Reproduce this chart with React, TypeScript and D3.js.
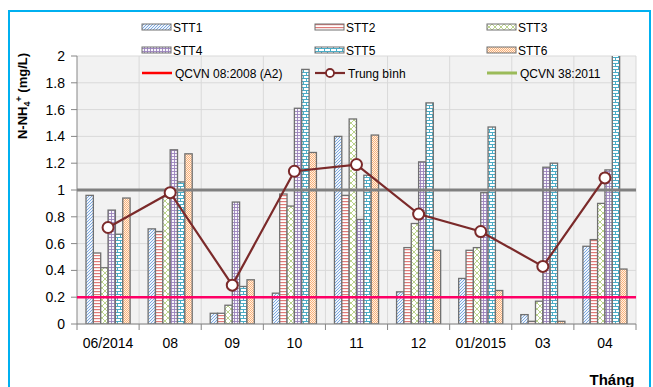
import React from "react";
import * as d3 from "d3";

const categories = ["06/2014", "08", "09", "10", "11", "12", "01/2015", "03", "04"];
const seriesNames = ["STT1", "STT2", "STT3", "STT4", "STT5", "STT6"];
const stt1 = [0.96, 0.71, 0.08, 0.23, 1.40, 0.24, 0.34, 0.07, 0.58];
const stt2 = [0.53, 0.69, 0.08, 0.97, 0.96, 0.57, 0.55, 0.02, 0.63];
const stt3 = [0.42, 0.95, 0.14, 0.88, 1.53, 0.75, 0.57, 0.17, 0.90];
const stt4 = [0.85, 1.30, 0.91, 1.61, 0.78, 1.21, 0.98, 1.17, 1.15];
const stt5 = [0.67, 1.06, 0.28, 1.90, 1.11, 1.65, 1.47, 1.20, 2.90];
const stt6 = [0.94, 1.27, 0.33, 1.28, 1.41, 0.55, 0.25, 0.02, 0.41];
const trungBinh = [0.72, 0.98, 0.29, 1.14, 1.19, 0.82, 0.69, 0.43, 1.09];
const qcvn08 = 0.2;
const qcvn38 = 1;
const yTicks = [0, 0.2, 0.4, 0.6, 0.8, 1, 1.2, 1.4, 1.6, 1.8, 2];

const seriesValues = [stt1, stt2, stt3, stt4, stt5, stt6];

const W = 653, H = 387;
const left = 77, right = 636, top = 56, bottom = 324;
const FONT = "'Liberation Sans', Arial, sans-serif";

export default function App() {
  const x = d3.scaleBand<string>().domain(categories).range([left, right]).paddingInner(0).paddingOuter(0);
  const bw = x.bandwidth();
  const x1 = d3.scaleBand<string>().domain(seriesNames).range([bw * 0.145, bw * 0.855]).padding(0);
  const y = d3.scaleLinear().domain([0, 2]).range([bottom, top]);
  const line = d3.line<number>().x((_, i) => (x(categories[i]) as number) + bw / 2).y((d) => y(d));

  const legendCols = [142, 315, 487];
  const legendRows = [27, 50, 73];
  const axisColor = "#868686";
  const barStroke = "#707070";

  return (
    <svg width={W} height={H} style={{ position: "absolute", left: 0, top: 0 }} fontFamily={FONT}>
      <defs>
        <pattern id="p0" patternUnits="userSpaceOnUse" width="3" height="3">
          <rect width="3" height="3" fill="#eef4fb" />
          <path d="M-0.75,0.75 l1.5,-1.5 M0,3 l3,-3 M2.25,3.75 l1.5,-1.5" stroke="#6f9fdc" strokeWidth="0.9" />
        </pattern>
        <pattern id="p1" patternUnits="userSpaceOnUse" width="4" height="3">
          <rect width="4" height="3" fill="#ffffff" />
          <rect y="0" width="4" height="1.2" fill="#e07b78" />
        </pattern>
        <pattern id="p2" patternUnits="userSpaceOnUse" width="6" height="6">
          <rect width="6" height="6" fill="#ffffff" />
          <path d="M0,0 L6,6 M6,0 L0,6" stroke="#b3cf7f" strokeWidth="0.9" />
        </pattern>
        <pattern id="p3" patternUnits="userSpaceOnUse" width="3" height="3">
          <rect width="3" height="3" fill="#f7f4fa" />
          <path d="M0,0.5 H3 M0.5,0 V3" stroke="#9a82bb" strokeWidth="0.9" />
        </pattern>
        <pattern id="p4" patternUnits="userSpaceOnUse" width="6" height="6">
          <rect width="6" height="6" fill="#ffffff" />
          <path d="M0,0.5 H6 M0,3.5 H6 M0.5,0 V3 M3.5,3 V6" stroke="#4bacc6" strokeWidth="1" />
        </pattern>
        <pattern id="p5" patternUnits="userSpaceOnUse" width="2" height="2">
          <rect width="2" height="2" fill="#fff0e4" />
          <rect width="1" height="1" fill="#f9b27a" />
          <rect x="1" y="1" width="1" height="1" fill="#f9b27a" />
        </pattern>
        <clipPath id="plotClip">
          <rect x={left} y={top} width={right - left} height={bottom - top} />
        </clipPath>
      </defs>

      <rect x={9} y={11} width={641} height={390} fill="#ffffff" stroke="#00b0f0" strokeWidth={2} />

      {/* plot background */}
      <rect x={left} y={top} width={right - left} height={bottom - top} fill="#f2f2f2" />
      {yTicks.map((t) => (
        <line key={"gy" + t} x1={left} x2={right} y1={y(t)} y2={y(t)} stroke="#d9d9d9" strokeWidth={1} />
      ))}
      {categories.map((c) => (
        <line key={"gx" + c} x1={(x(c) as number) + bw} x2={(x(c) as number) + bw} y1={top} y2={bottom} stroke="#d9d9d9" strokeWidth={1} />
      ))}

      {/* bars */}
      <g clipPath="url(#plotClip)">
        {seriesValues.map((vals, s) =>
          vals.map((v, i) => {
            const bx = (x(categories[i]) as number) + (x1(seriesNames[s]) as number);
            const yy = y(v);
            return (
              <rect key={s + "-" + i} x={bx} y={yy} width={x1.bandwidth()} height={bottom - yy}
                fill={`url(#p${s})`} stroke={barStroke} strokeWidth={1.3} />
            );
          })
        )}
      </g>

      {/* axes */}
      <line x1={left} x2={left} y1={top} y2={bottom} stroke={axisColor} />
      <line x1={left} x2={right} y1={bottom} y2={bottom} stroke={axisColor} />
      {yTicks.map((t) => (
        <g key={"yt" + t}>
          <line x1={left - 6} x2={left} y1={y(t)} y2={y(t)} stroke={axisColor} />
          <text x={65} y={y(t) + 5} textAnchor="end" fontSize={14} fill="#000">{d3.format("~g")(t)}</text>
        </g>
      ))}
      {categories.map((c) => (
        <g key={"xt" + c}>
          <line x1={(x(c) as number)} x2={(x(c) as number)} y1={bottom} y2={bottom + 6} stroke={axisColor} />
          <text x={(x(c) as number) + bw / 2} y={348} textAnchor="middle" fontSize={14} fill="#000">{c}</text>
        </g>
      ))}
      <line x1={right} x2={right} y1={bottom} y2={bottom + 6} stroke={axisColor} />

      {/* reference lines */}
      <line x1={left} x2={right} y1={y(qcvn38)} y2={y(qcvn38)} stroke="#808080" strokeWidth={3} />
      <line x1={left} x2={right} y1={y(qcvn08)} y2={y(qcvn08)} stroke="#ff0066" strokeWidth={2.5} />

      {/* average */}
      <path d={line(trungBinh) || ""} fill="none" stroke="#7b2a2a" strokeWidth={2.2} />
      {trungBinh.map((v, i) => (
        <circle key={"m" + i} cx={(x(categories[i]) as number) + bw / 2} cy={y(v)} r={5.5} fill="#ffffff" stroke="#7b2a2a" strokeWidth={2} />
      ))}

      {/* legend */}
      {seriesNames.map((n, s) => {
        const cx = legendCols[s % 3];
        const cy = legendRows[Math.floor(s / 3)];
        return (
          <g key={"lg" + n}>
            <rect x={cx} y={cy - 3} width={29} height={6} fill={`url(#p${s})`} stroke={barStroke} strokeWidth={1} />
            <text x={cx + 31} y={cy + 4.5} fontSize={12} fill="#000">{n}</text>
          </g>
        );
      })}
      <g>
        <line x1={legendCols[0]} x2={legendCols[0] + 30} y1={legendRows[2]} y2={legendRows[2]} stroke="#ff0000" strokeWidth={2.5} />
        <text x={legendCols[0] + 33} y={legendRows[2] + 4.5} fontSize={12} fill="#000">QCVN 08:2008 (A2)</text>
        <line x1={legendCols[1]} x2={legendCols[1] + 30} y1={legendRows[2]} y2={legendRows[2]} stroke="#7b2a2a" strokeWidth={2.2} />
        <circle cx={legendCols[1] + 15} cy={legendRows[2]} r={4} fill="#fff" stroke="#7b2a2a" strokeWidth={1.8} />
        <text x={legendCols[1] + 33} y={legendRows[2] + 4.5} fontSize={12} fill="#000">Trung bình</text>
        <line x1={legendCols[2]} x2={legendCols[2] + 30} y1={legendRows[2]} y2={legendRows[2]} stroke="#9bbb59" strokeWidth={3} />
        <text x={legendCols[2] + 33} y={legendRows[2] + 4.5} fontSize={12} fill="#000">QCVN 38:2011</text>
      </g>

      {/* axis titles */}
      <text transform="translate(27,96) rotate(-90)" textAnchor="middle" fontSize={13} fontWeight="bold" fill="#000">
        N-NH<tspan fontSize={9} dy={3}>4</tspan><tspan fontSize={9} dy={-8}>+</tspan><tspan dy={5}> (mg/L)</tspan>
      </text>
      <text x={612} y={385} textAnchor="middle" fontSize={15} fontWeight="bold" fill="#000">Tháng</text>
    </svg>
  );
}
